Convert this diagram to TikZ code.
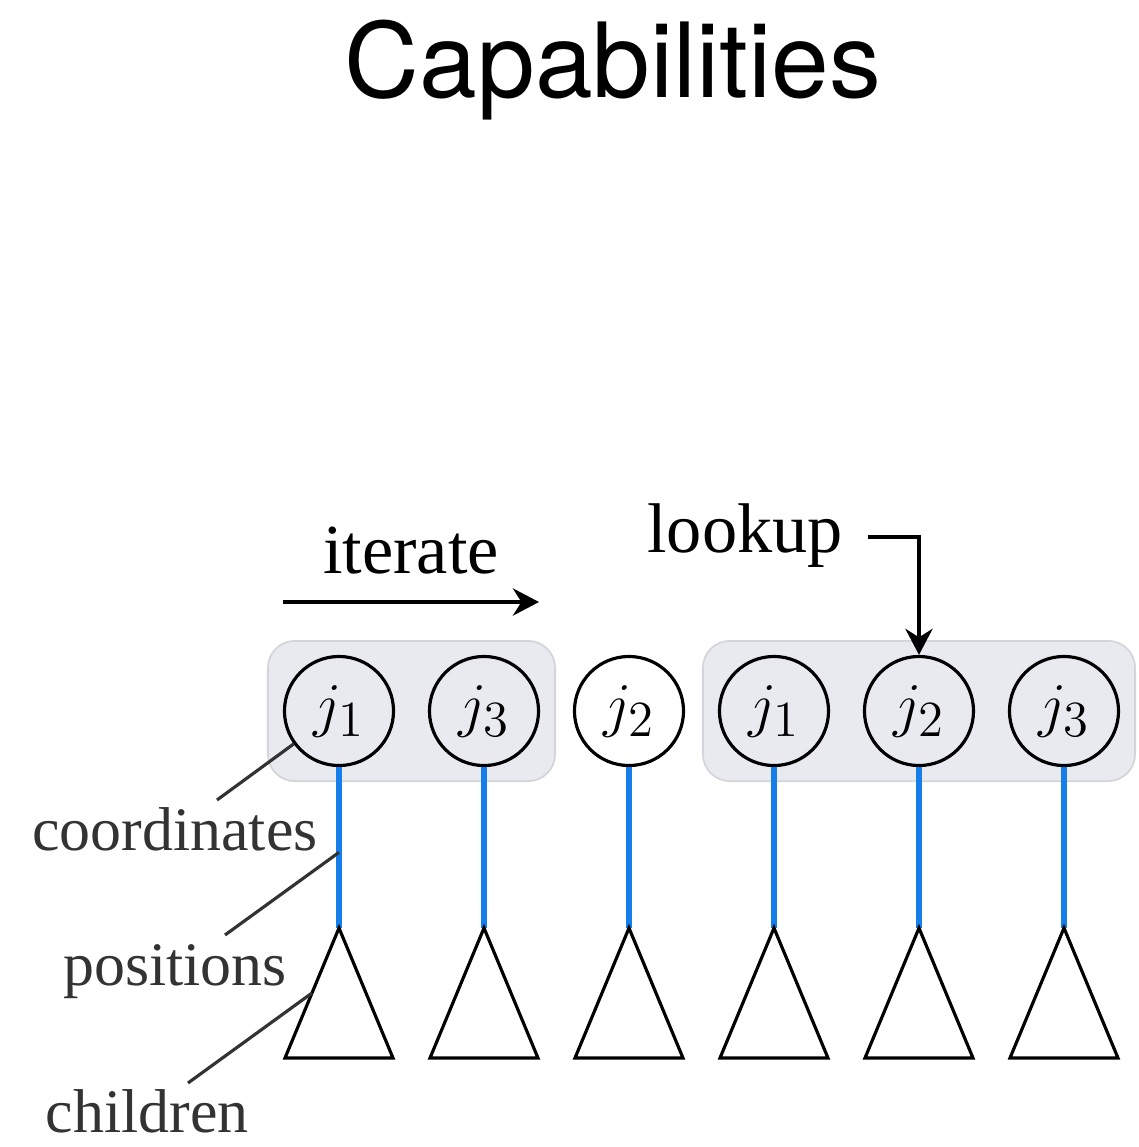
\documentclass[tikz,border=0pt]{standalone}
\usepackage{fontspec}
\setmainfont{Liberation Serif}
\newfontfamily\titlefont{TeX Gyre Heros}
\usetikzlibrary{arrows.meta,fit,backgrounds}

\definecolor{posblue}{RGB}{22,126,232}
\definecolor{grpfill}{RGB}{233,234,240}
\definecolor{grpline}{RGB}{212,213,218}
\definecolor{leadgray}{RGB}{51,51,51}

% j with a large subscript, as in the circles
\newcommand{\jsub}[1]{$j_{\mbox{\fontsize{15}{15}\selectfont$#1$}}$}

\tikzset{
  coordnode/.style={circle, draw, line width=0.9pt, minimum size=1.09cm, inner sep=0pt,
    font=\fontsize{18}{18}\selectfont},
  group/.style={draw=grpline, fill=grpfill, rounded corners=0.27cm, line width=0.5pt,
    inner xsep=0.15cm, inner ysep=0.14cm},
  position/.style={posblue, line width=1.7pt},
  child/.style={line width=0.9pt, line join=miter},
  leader/.style={leadgray, line width=0.9pt},
  partlabel/.style={leadgray, anchor=base, inner sep=0pt, font=\fontsize{17.6}{20}\selectfont},
  actlabel/.style={anchor=base, inner sep=0pt, font=\fontsize{20}{22}\selectfont},
  flow/.style={line width=1.4pt, -{Stealth[length=7.4pt, width=7.7pt]}}
}

\begin{document}
\begin{tikzpicture}[x=0.01cm, y=-0.01cm]
  \useasboundingbox (0,0) rectangle (1139,1147);
  % ---------------------------------------------------------------- title
  \node[anchor=base, inner sep=0pt, font=\titlefont\fontsize{29.5}{30}\selectfont] (title) at (613,97) {Capabilities};
  % ---------------------------------------------------------------- the coordinates, positions and children
  \foreach \i/\lab in {1/1, 2/3, 3/2, 4/1, 5/2, 6/3} {
    \pgfmathsetmacro{\xx}{339 + 145*(\i-1)}
    \node[coordnode] (c\i) at (\xx,711) {\jsub{\lab}};
    \coordinate (t\i) at (\xx,928);
    \draw[position] (c\i) -- (t\i);
    \draw[child] (t\i) -- coordinate (tm\i) ++(-54,130) -- ++(108,0) -- cycle;
  }
  % the two sorted runs
  \begin{scope}[on background layer]
    \node[group, fit=(c1)(c2)] (grpa) {};
    \node[group, fit=(c4)(c6)] (grpb) {};
  \end{scope}
  % ---------------------------------------------------------------- the two operations
  \node[actlabel] (iterate) at (411,573) {iterate};
  \coordinate (itstart) at (283,602);
  \coordinate (itend) at (539,602);
  \draw[flow] (itstart) -- (itend);
  \node[actlabel] (lookup) at (745,552) {lookup};
  \coordinate (lookstart) at (868,537);
  \draw[flow] (lookstart) -| (c5.north);
  % ---------------------------------------------------------------- parts, named on the left
  \node[partlabel] (coordlbl) at (175,850) {coordinates};
  \node[partlabel] (poslbl) at (175,985) {positions};
  \node[partlabel] (childlbl) at (147,1132) {children};
  \path (c1) -- (t1) coordinate[pos=0.53] (posmid);
  \coordinate (coordend) at (217,800);
  \coordinate (posend) at (225,935);
  \coordinate (childend) at (188,1083);
  \draw[leader] (coordend) -- (c1.216);
  \draw[leader] (posend) -- (posmid);
  \draw[leader] (childend) -- (tm1);
\end{tikzpicture}
\end{document}
